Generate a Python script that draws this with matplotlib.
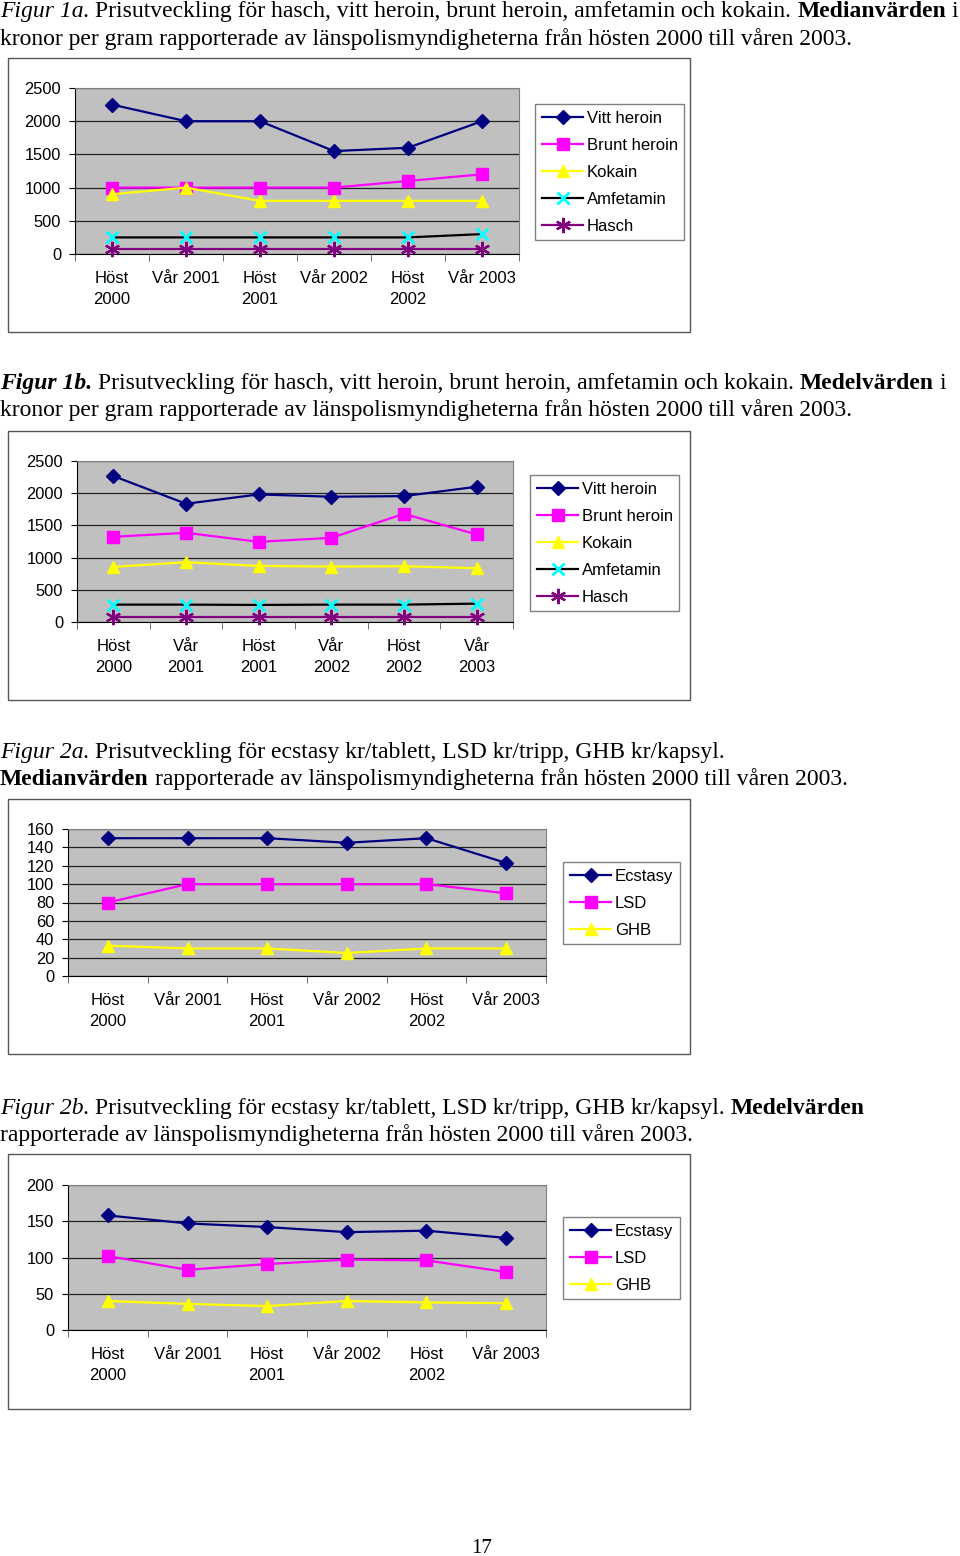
import matplotlib
matplotlib.use("Agg")
import matplotlib.pyplot as plt
from matplotlib.patches import Rectangle
import numpy as np

W, H = 960, 1556

# category labels (Excel-style, two wrapping variants)
cats_a = ["Höst\n2000", "Vår 2001", "Höst\n2001", "Vår 2002", "Höst\n2002", "Vår 2003"]
cats_b = ["Höst\n2000", "Vår\n2001", "Höst\n2001", "Vår\n2002", "Höst\n2002", "Vår\n2003"]

# Figur 1a -- medianvärden kr/gram
med_vitt = [2250, 2000, 2000, 1550, 1600, 2000]
med_brunt = [1000, 1000, 1000, 1000, 1100, 1200]
med_kokain = [900, 1000, 800, 800, 800, 800]
med_amfetamin = [250, 250, 250, 250, 250, 300]
med_hasch = [75, 75, 75, 75, 75, 75]

# Figur 1b -- medelvärden kr/gram
mean_vitt = [2267, 1836, 1981, 1945, 1955, 2100]
mean_brunt = [1323, 1385, 1245, 1307, 1680, 1359]
mean_kokain = [856, 928, 871, 861, 866, 835]
mean_amfetamin = [270, 270, 265, 270, 270, 285]
mean_hasch = [78, 78, 78, 78, 78, 78]

# Figur 2a -- medianvärden
med_ecstasy = [150, 150, 150, 145, 150, 123]
med_lsd = [80, 100, 100, 100, 100, 90]
med_ghb = [33, 30, 30, 25, 30, 30]

# Figur 2b -- medelvärden
mean_ecstasy = [158, 147, 142, 135, 137, 127]
mean_lsd = [102, 83, 91, 97, 96, 80]
mean_ghb = [40, 36, 33, 40, 38, 37]

STYLE = {
    "Vitt heroin": dict(color="#000080", marker="D", ms=7),
    "Brunt heroin": dict(color="#FF00FF", marker="s", ms=8),
    "Kokain": dict(color="#FFFF00", marker="^", ms=9),
    "Amfetamin": dict(color="#000000", marker="x", ms=8, mec="#00FFFF", mew=2),
    "Hasch": dict(color="#800080", marker=(6, 2, 0), ms=11, mew=1.6),
    "Ecstasy": dict(color="#000080", marker="D", ms=7),
    "LSD": dict(color="#FF00FF", marker="s", ms=8),
    "GHB": dict(color="#FFFF00", marker="^", ms=9),
}

SANS = "Liberation Sans"
SERIF = "Liberation Serif"
CAP_SIZE = 17

fig = plt.figure(figsize=(W / 100, H / 100), dpi=100)
renderer = fig.canvas.get_renderer()


def fx(x):
    return x / W


def fy(y):
    return 1 - y / H


def caption_line(x, y, parts, size=CAP_SIZE):
    # parts: list of (text, style, weight); joined with a space
    gap = 0.25 * size * 100 / 72
    for text, style, weight in parts:
        t = fig.text(fx(x), fy(y), text, family=SERIF, style=style,
                     weight=weight, size=size, va="baseline", ha="left")
        x += t.get_window_extent(renderer).width + gap


def chart(frame, plot, legend_at, cats, series, ymax, ystep):
    l, t, r, b = frame
    fig.add_artist(Rectangle((fx(l), fy(b)), (r - l) / W, (b - t) / H,
                             transform=fig.transFigure, fill=False,
                             edgecolor="#555555", lw=1))
    pl, pt, pr, pb = plot
    ax = fig.add_axes([fx(pl), fy(pb), (pr - pl) / W, (pb - pt) / H])
    ax.set_facecolor("#C0C0C0")
    x = np.arange(len(cats))
    handles = []
    for name, vals in series:
        st = dict(STYLE[name])
        color = st.pop("color")
        mec = st.pop("mec", color)
        mew = st.pop("mew", 1)
        ms = st.pop("ms")
        ln, = ax.plot(x, vals, color=color, lw=1.6, marker=st["marker"],
                      ms=ms, mfc=mec, mec=mec, mew=mew, label=name,
                      clip_on=False, zorder=3)
        handles.append(ln)
    ax.set_xlim(-0.5, len(cats) - 0.5)
    ax.set_ylim(0, ymax)
    ax.set_yticks(np.arange(0, ymax + ystep / 2, ystep))
    ax.yaxis.grid(True, color="#222222", lw=0.9)
    ax.set_axisbelow(True)
    ax.set_xticks(x)
    ax.set_xticklabels(cats, family=SANS, size=12, linespacing=1.5)
    ax.set_xticks(np.arange(-0.5, len(cats), 1.0), minor=True)
    ax.tick_params(axis="x", which="major", length=0, pad=12.5)
    ax.tick_params(axis="x", which="minor", length=5, direction="out",
                   color="#555555")
    ax.tick_params(axis="y", length=4, direction="out", pad=6)
    for lab in ax.get_yticklabels():
        lab.set_family(SANS)
        lab.set_size(11.8)
    for s in ("top", "right"):
        ax.spines[s].set_color("#808080")
    for s in ("left", "bottom"):
        ax.spines[s].set_color("#000000")
    leg = ax.legend(handles=handles, loc="upper left",
                    bbox_to_anchor=(fx(legend_at[0]), fy(legend_at[1])),
                    bbox_transform=fig.transFigure, borderaxespad=0,
                    frameon=True, fancybox=False, edgecolor="#808080",
                    framealpha=1, borderpad=0.4, labelspacing=0.72,
                    handlelength=2.5, handletextpad=0.2,
                    prop=dict(family=SANS, size=12))
    leg.get_frame().set_linewidth(1)
    return ax


# ---- captions ----
caption_line(0, 17, [("Figur 1a.", "italic", "normal"),
                     ("Prisutveckling för hasch, vitt heroin, brunt heroin, amfetamin och kokain.", "normal", "normal"),
                     ("Medianvärden", "normal", "bold"), ("i", "normal", "normal")])
caption_line(0, 45, [("kronor per gram rapporterade av länspolismyndigheterna från hösten 2000 till våren 2003.", "normal", "normal")])

caption_line(0, 389, [("Figur 1b.", "italic", "bold"),
                      ("Prisutveckling för hasch, vitt heroin, brunt heroin, amfetamin och kokain.", "normal", "normal"),
                      ("Medelvärden", "normal", "bold"), ("i", "normal", "normal")])
caption_line(0, 416, [("kronor per gram rapporterade av länspolismyndigheterna från hösten 2000 till våren 2003.", "normal", "normal")])

caption_line(0, 758, [("Figur 2a.", "italic", "normal"),
                      ("Prisutveckling för ecstasy kr/tablett, LSD kr/tripp, GHB kr/kapsyl.", "normal", "normal")])
caption_line(0, 785, [("Medianvärden", "normal", "bold"),
                      ("rapporterade av länspolismyndigheterna från hösten 2000 till våren 2003.", "normal", "normal")])

caption_line(0, 1114, [("Figur 2b.", "italic", "normal"),
                       ("Prisutveckling för ecstasy kr/tablett, LSD kr/tripp, GHB kr/kapsyl.", "normal", "normal"),
                       ("Medelvärden", "normal", "bold")])
caption_line(0, 1141, [("rapporterade av länspolismyndigheterna från hösten 2000 till våren 2003.", "normal", "normal")])

# ---- charts ----
chart((8, 58, 690, 332), (75, 88, 519, 254), (535, 104), cats_a,
      [("Vitt heroin", med_vitt), ("Brunt heroin", med_brunt),
       ("Kokain", med_kokain), ("Amfetamin", med_amfetamin),
       ("Hasch", med_hasch)], 2500, 500)

chart((8, 431, 690, 700), (77, 461, 513, 622), (530, 475), cats_b,
      [("Vitt heroin", mean_vitt), ("Brunt heroin", mean_brunt),
       ("Kokain", mean_kokain), ("Amfetamin", mean_amfetamin),
       ("Hasch", mean_hasch)], 2500, 500)

chart((8, 799, 690, 1054), (68, 829, 546, 976), (563, 862), cats_a,
      [("Ecstasy", med_ecstasy), ("LSD", med_lsd), ("GHB", med_ghb)], 160, 20)

chart((8, 1154, 690, 1409), (68, 1185, 546, 1330), (563, 1217), cats_a,
      [("Ecstasy", mean_ecstasy), ("LSD", mean_lsd), ("GHB", mean_ghb)], 200, 50)

fig.text(fx(482), fy(1553), "17", family=SERIF, size=15, ha="center",
         va="baseline")

fig.savefig("out.png", dpi=100)
